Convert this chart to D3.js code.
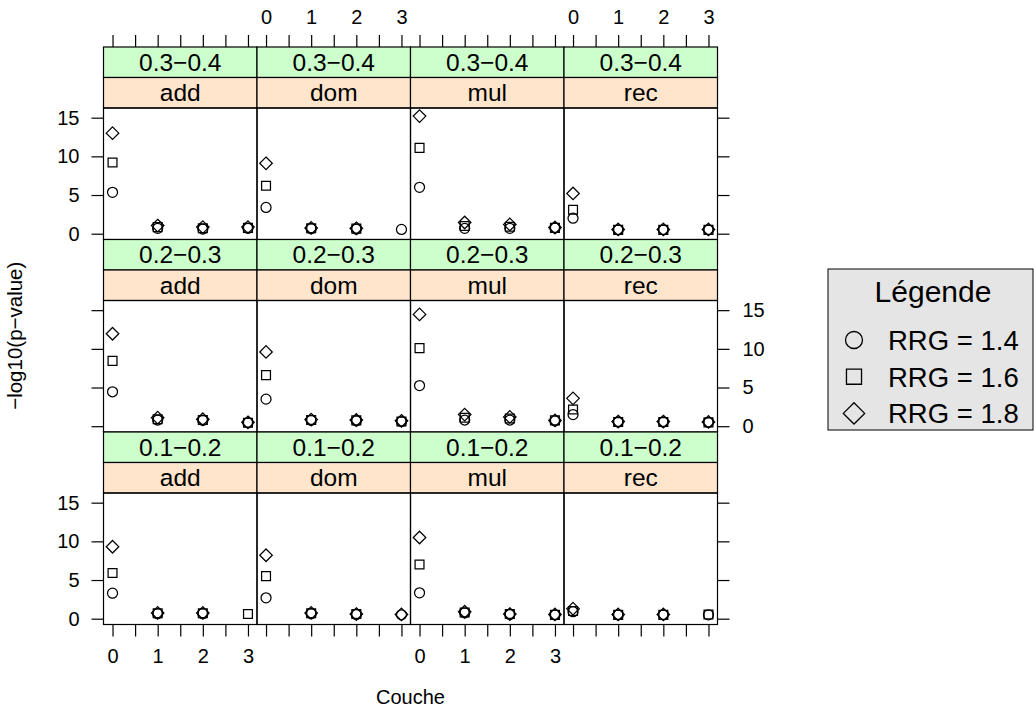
<!DOCTYPE html>
<html>
<head>
<meta charset="utf-8">
<script src="https://cdn.jsdelivr.net/npm/d3@7"></script>
<style>
  body { margin: 0; background: #fff; }
  svg { display: block; font-family: "Liberation Sans", Arial, sans-serif; }
</style>
</head>
<body>
<svg id="chart" width="1035" height="713"></svg>
<script>
// facets
var models = ['add', 'dom', 'mul', 'rec'];
var mafs = ['0.3\u22120.4', '0.2\u22120.3', '0.1\u22120.2'];
var couches = [0, 1, 2, 3];
var rrgLabels = ['RRG = 1.4', 'RRG = 1.6', 'RRG = 1.8'];
var xTicks = [0, 0.5, 1, 1.5, 2, 2.5, 3];
var xLabels = [0, 1, 2, 3];
var yTicks = [0, 5, 10, 15];

// -log10(p) per maf row, per model, per couche (null = absent)
var rrg14 = [
  { add: [5.35, 0.7, 0.6, 0.7], dom: [3.4, 0.65, 0.6, 0.55], mul: [6.0, 0.7, 0.7, 0.75], rec: [2.0, 0.5, 0.5, 0.5] },
  { add: [4.45, 0.8, 0.75, 0.45], dom: [3.5, 0.75, 0.7, 0.6], mul: [5.25, 0.8, 0.8, 0.7], rec: [1.5, 0.55, 0.55, 0.5] },
  { add: [3.3, 0.65, 0.65, null], dom: [2.7, 0.65, 0.55, 0.5], mul: [3.35, 0.75, 0.55, 0.5], rec: [0.9, 0.5, 0.5, 0.5] }
];
var rrg16 = [
  { add: [9.2, 0.85, 0.7, 0.75], dom: [6.2, 0.7, 0.65, null], mul: [11.1, 1.0, 0.9, 0.75], rec: [3.1, 0.5, 0.5, 0.5] },
  { add: [8.45, 0.9, 0.8, 0.45], dom: [6.6, 0.8, 0.75, 0.6], mul: [10.1, 1.1, 1.0, 0.75], rec: [2.15, 0.55, 0.55, 0.5] },
  { add: [5.9, 0.7, 0.7, 0.6], dom: [5.5, 0.7, 0.6, null], mul: [7.0, 0.8, 0.6, 0.5], rec: [1.0, 0.5, 0.5, 0.55] }
];
var rrg18 = [
  { add: [13.0, 1.05, 0.85, 0.85], dom: [9.1, 0.75, 0.7, null], mul: [15.2, 1.45, 1.2, 0.8], rec: [5.2, 0.55, 0.55, 0.55] },
  { add: [11.95, 1.1, 0.9, 0.5], dom: [9.6, 0.85, 0.8, 0.7], mul: [14.45, 1.5, 1.2, 0.75], rec: [3.6, 0.6, 0.6, 0.55] },
  { add: [9.3, 0.75, 0.75, null], dom: [8.2, 0.75, 0.6, 0.55], mul: [10.5, 0.9, 0.6, 0.55], rec: [1.3, 0.55, 0.55, null] }
];
var series = [rrg14, rrg16, rrg18];
var shapes = ['circle', 'square', 'diamond'];

// layout
var gridLeft = 103.5, gridTop = 47;
var panelW = 153.5, stripH = 30.5, panelH = 131.5;
var rowH = stripH * 2 + panelH;
var tickLen = 12;

var svg = d3.select('#chart');

var x = d3.scaleLinear().domain([-0.2, 3.2]).range([0, panelW]);
var y = d3.scaleLinear().domain([-0.75, 16.25]).range([panelH, 0]);

// R-like open symbols: circle radius r, square half-side 0.886r, diamond 1.253r
function symbolPath(shape, r) {
  if (shape === 'circle') {
    return d3.symbol().type(d3.symbolCircle).size(Math.PI * r * r)();
  }
  if (shape === 'square') {
    var h = r * 0.886;
    return 'M' + (-h) + ',' + (-h) + 'H' + h + 'V' + h + 'H' + (-h) + 'Z';
  }
  var d = r * 1.253;
  return 'M0,' + (-d) + 'L' + d + ',0L0,' + d + 'L' + (-d) + ',0Z';
}

mafs.forEach(function (maf, ri) {
  models.forEach(function (model, ci) {
    var gx = gridLeft + ci * panelW;
    var gy = gridTop + ri * rowH;
    var g = svg.append('g').attr('transform', 'translate(' + gx + ',' + gy + ')');

    // strips
    g.append('rect').attr('width', panelW).attr('height', stripH)
      .attr('fill', '#ccffcc').attr('stroke', '#000').attr('stroke-width', 1.2);
    g.append('text').attr('x', panelW / 2).attr('y', stripH / 2 + 8.5)
      .attr('text-anchor', 'middle').attr('font-size', 24.5).text(maf);
    g.append('rect').attr('y', stripH).attr('width', panelW).attr('height', stripH)
      .attr('fill', '#ffe5cc').attr('stroke', '#000').attr('stroke-width', 1.2);
    g.append('text').attr('x', panelW / 2).attr('y', stripH * 1.5 + 8.5)
      .attr('text-anchor', 'middle').attr('font-size', 24.5).text(model);

    var p = g.append('g').attr('transform', 'translate(0,' + stripH * 2 + ')');
    p.append('rect').attr('width', panelW).attr('height', panelH)
      .attr('fill', 'none').attr('stroke', '#000').attr('stroke-width', 1.2);

    series.forEach(function (s, si) {
      var vals = couches.map(function (c, k) { return { c: c, v: s[ri][model][k] }; })
        .filter(function (d) { return d.v !== null; });
      p.selectAll('.pt' + si).data(vals).enter().append('path')
        .attr('class', 'pt' + si)
        .attr('transform', function (d) { return 'translate(' + x(d.c) + ',' + y(d.v) + ')'; })
        .attr('d', symbolPath(shapes[si], 5))
        .attr('fill', 'none').attr('stroke', '#000').attr('stroke-width', 1.25);
    });

    // top axis on first row
    if (ri === 0) {
      var ta = d3.axisTop(x).tickValues(xTicks).tickSizeOuter(0).tickSizeInner(tickLen)
        .tickPadding(11).tickFormat(function (d) { return (ci % 2 === 1 && xLabels.indexOf(d) >= 0) ? d : ''; });
      g.append('g').attr('class', 'ax').call(ta);
    }
    // bottom axis on last row
    if (ri === mafs.length - 1) {
      var ba = d3.axisBottom(x).tickValues(xTicks).tickSizeOuter(0).tickSizeInner(tickLen)
        .tickPadding(12).tickFormat(function (d) { return (ci % 2 === 0 && xLabels.indexOf(d) >= 0) ? d : ''; });
      g.append('g').attr('class', 'ax').attr('transform', 'translate(0,' + (stripH * 2 + panelH) + ')').call(ba);
    }
    // left axis on first column
    if (ci === 0) {
      var la = d3.axisLeft(y).tickValues(yTicks).tickSizeOuter(0).tickSizeInner(tickLen)
        .tickPadding(12).tickFormat(function (d) { return ri % 2 === 0 ? d : ''; });
      p.append('g').attr('class', 'ax').call(la);
    }
    // right axis on last column
    if (ci === models.length - 1) {
      var ra = d3.axisRight(y).tickValues(yTicks).tickSizeOuter(0).tickSizeInner(tickLen)
        .tickPadding(13).tickFormat(function (d) { return ri % 2 === 1 ? d : ''; });
      p.append('g').attr('class', 'ax').attr('transform', 'translate(' + panelW + ',0)').call(ra);
    }
  });
});

svg.selectAll('.ax .domain').remove();
svg.selectAll('.ax line').attr('stroke', '#000').attr('stroke-width', 1.2);
svg.selectAll('.ax text').attr('font-size', 20).attr('fill', '#000')
  .attr('font-family', '"Liberation Sans", Arial, sans-serif');

// axis titles
var plotMidX = gridLeft + panelW * models.length / 2;
var plotMidY = gridTop + rowH * mafs.length / 2;
svg.append('text').attr('x', plotMidX).attr('y', 704).attr('text-anchor', 'middle')
  .attr('font-size', 20).text('Couche');
svg.append('text').attr('transform', 'translate(22,' + plotMidY + ') rotate(-90)')
  .attr('text-anchor', 'middle').attr('font-size', 20.5).text('\u2212log10(p\u2212value)');

// legend
var lg = svg.append('g').attr('transform', 'translate(828,269)');
lg.append('rect').attr('width', 205).attr('height', 161)
  .attr('fill', '#e5e5e5').attr('stroke', '#000');
lg.append('text').attr('x', 105).attr('y', 33).attr('text-anchor', 'middle')
  .attr('font-size', 30).text('L\u00e9gende');
var items = lg.selectAll('.item').data(rrgLabels).enter().append('g')
  .attr('class', 'item')
  .attr('transform', function (d, i) { return 'translate(0,' + (71 + i * 36.7) + ')'; });
items.append('path')
  .attr('transform', 'translate(26,0)')
  .attr('d', function (d, i) { return symbolPath(shapes[i], 8.5); })
  .attr('fill', 'none').attr('stroke', '#000').attr('stroke-width', 1.3);
items.append('text').attr('x', 60).attr('y', 10).attr('font-size', 27.5).text(function (d) { return d; });
</script>
</body>
</html>
